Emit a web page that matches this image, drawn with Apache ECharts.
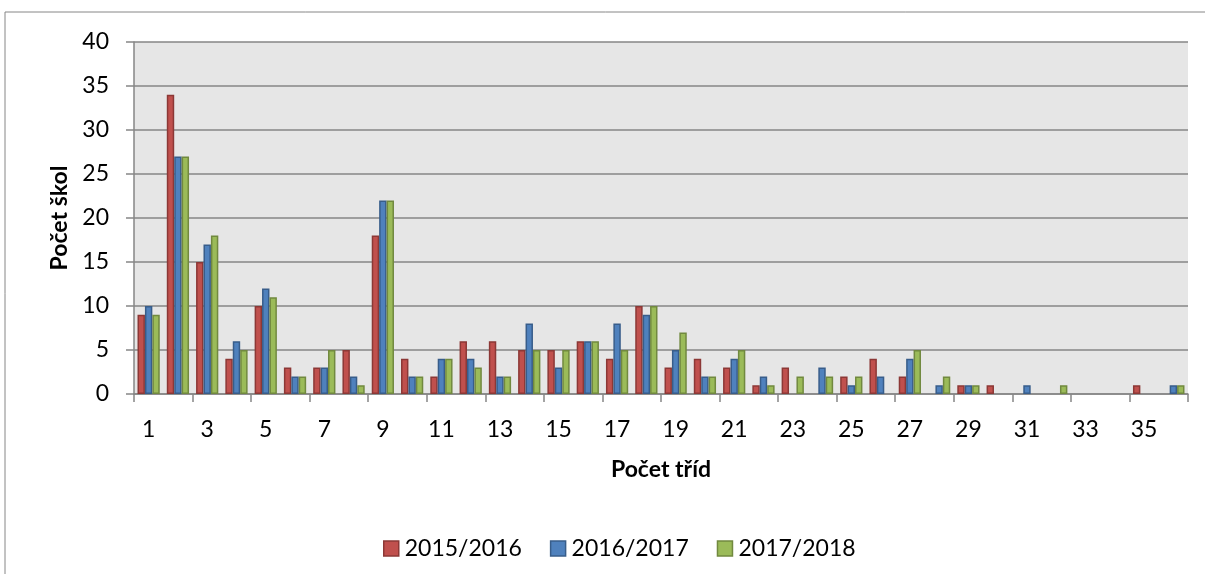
<!DOCTYPE html>
<html>
<head>
<meta charset="utf-8">
<script src="https://cdn.jsdelivr.net/npm/echarts@6/dist/echarts.min.js"></script>
<style>
  html, body { margin: 0; padding: 0; background: #fff; }
  #chart { width: 1205px; height: 574px; }
</style>
</head>
<body>
<div id="chart"></div>
<script>
// pocet trid 1..36
const categories = [];
for (let i = 1; i <= 36; i++) categories.push(String(i));

const seriesNames = ['2015/2016', '2016/2017', '2017/2018'];
const data2015 = [9, 34, 15, 4, 10, 3, 3, 5, 18, 4, 2, 6, 6, 5, 5, 6, 4, 10, 3, 4, 3, 1, 3, 0, 2, 4, 2, 0, 1, 1, 0, 0, 0, 0, 1, 0];
const data2016 = [10, 27, 17, 6, 12, 2, 3, 2, 22, 2, 4, 4, 2, 8, 3, 6, 8, 9, 5, 2, 4, 2, 0, 3, 1, 2, 4, 1, 1, 0, 1, 0, 0, 0, 0, 1];
const data2017 = [9, 27, 18, 5, 11, 2, 5, 1, 22, 2, 4, 3, 2, 5, 5, 6, 5, 10, 7, 2, 5, 1, 2, 2, 2, 0, 5, 2, 1, 0, 0, 1, 0, 0, 0, 1];

const chartDom = document.getElementById('chart');
let myChart = echarts.init(chartDom);
let option;

let colors = ['#C0504D', '#4F81BD', '#9BBB59'];
let borders = ['#8C3836', '#385D8A', '#71893F'];
const font = 'Lato, "Open Sans", sans-serif';

function makeSeries(name, values, idx) {
    return {
        name: name,
        type: 'bar',
        barGap: '0%',
        barCategoryGap: '24%',
        itemStyle: {
            color: colors[idx],
            borderColor: borders[idx],
            borderWidth: 1.5
        },
        // zero bars are not drawn in the original
        data: values.map(v => (v === 0 ? null : v))
    };
}

option = {
    animation: false,
    color: colors,
    textStyle: { fontFamily: font },
    graphic: [
        {
            type: 'rect',
            shape: { x: 5, y: 12, width: 1220, height: 600 },
            style: { fill: 'none', stroke: '#868686', lineWidth: 1 },
            silent: true
        }
    ],
    legend: {
        data: seriesNames,
        top: 532,
        left: 378,
        icon: 'rect',
        itemWidth: 15,
        itemHeight: 15,
        itemGap: 28,
        itemStyle: { borderWidth: 1.5 },
        textStyle: { fontSize: 23, color: '#000', fontFamily: font, padding: [0, 0, 0, 1] }
    },
    grid: {
        left: 134,
        right: 17,
        top: 42,
        bottom: 180,
        show: true,
        backgroundColor: '#E6E6E6',
        borderWidth: 0
    },
    xAxis: {
        type: 'category',
        data: categories,
        name: 'Počet tříd',
        nameLocation: 'middle',
        nameGap: 64,
        nameTextStyle: { fontSize: 23, fontWeight: 'bold', color: '#000', fontFamily: font },
        axisLine: { lineStyle: { color: '#868686', width: 1.5 } },
        axisTick: { show: true, length: 8, lineStyle: { color: '#868686', width: 1.5 } },
        axisLabel: { interval: 1, fontSize: 23, color: '#000', margin: 24, fontFamily: font },
        splitLine: { show: false }
    },
    yAxis: {
        type: 'value',
        min: 0,
        max: 40,
        interval: 5,
        name: 'Počet škol',
        nameLocation: 'middle',
        nameGap: 62,
        nameTextStyle: { fontSize: 23, fontWeight: 'bold', color: '#000', fontFamily: font },
        axisLine: { show: true, lineStyle: { color: '#868686', width: 1.5 } },
        axisTick: { show: true, length: 8, lineStyle: { color: '#868686', width: 1.5 } },
        axisLabel: { fontSize: 23, color: '#000', margin: 25, fontFamily: font },
        splitLine: { show: true, lineStyle: { color: '#868686', width: 1.5 } }
    },
    series: [
        makeSeries(seriesNames[0], data2015, 0),
        makeSeries(seriesNames[1], data2016, 1),
        makeSeries(seriesNames[2], data2017, 2)
    ]
};

option && myChart.setOption(option);
</script>
</body>
</html>
